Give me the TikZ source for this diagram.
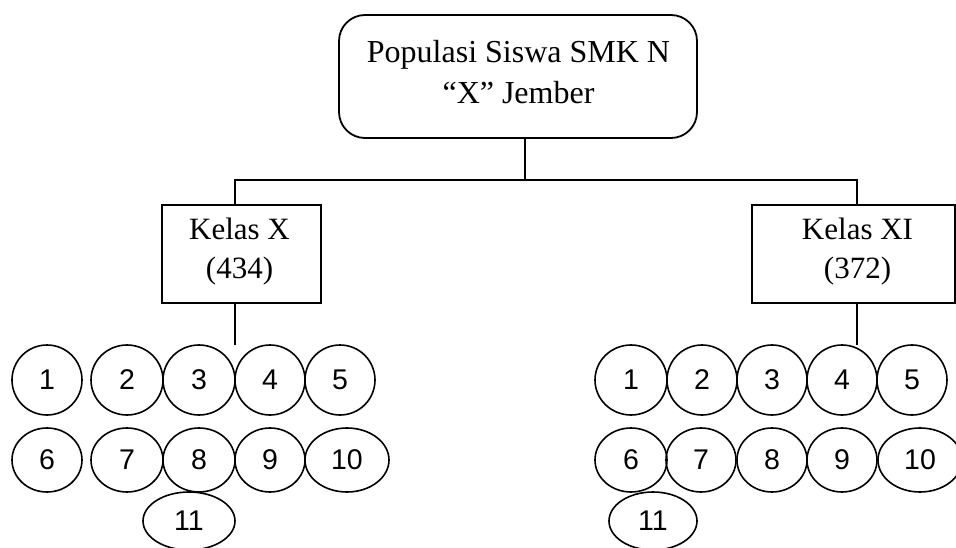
\documentclass[tikz,border=0pt]{standalone}
\usepackage{fontspec}
\setmainfont{Liberation Serif}
\newfontfamily\digitfont{Liberation Sans}
\usetikzlibrary{shapes.geometric}
\tikzset{
  link/.style={line width=1.8pt},
  frame/.style={draw, line width=1.8pt, inner sep=0pt},
  label31/.style={align=center, inner sep=0pt, font=\fontsize{31}{39}\selectfont},
  oval/.style={draw, ellipse, line width=1.6pt, inner sep=0pt,
    font=\digitfont\fontsize{28.5}{30}\selectfont},
}
\begin{document}
\begin{tikzpicture}[x=1pt,y=-1pt]
\useasboundingbox (0,0) rectangle (956,548);
% top box
\node[frame, rounded corners=26pt, minimum width=358pt, minimum height=123pt] (top) at (518,76.5) {};
\node[label31, font=\fontsize{32}{41}\selectfont] (toptext) at (518.5,72) {Populasi Siswa SMK N\\``X'' Jember};
\node[frame, minimum width=159pt, minimum height=98pt] (kx) at (241.5,254) {};
\node[label31] (kxtext) at (239.5,252) {Kelas X\\(434)};
\node[frame, minimum width=203pt, minimum height=98pt] (kxi) at (853.5,254) {};
\node[label31] (kxitext) at (857.5,252) {Kelas XI\\(372)};
\coordinate (jn) at (525,180);
\draw[link] ([xshift=7pt]top.south) -- (jn);
\draw[link] ([xshift=-6.5pt]kx.north) |- (jn) -| ([xshift=3.5pt]kxi.north);
% left group
\node[oval, minimum width=70pt, minimum height=70pt] (l1) at (47,380) {1};
\node[oval, minimum width=72pt, minimum height=70pt] (l2) at (127,380) {2};
\node[oval, minimum width=72pt, minimum height=70pt] (l3) at (199,380) {3};
\node[oval, minimum width=70pt, minimum height=70pt] (l4) at (270,380) {4};
\node[oval, minimum width=70pt, minimum height=70pt] (l5) at (340,380) {5};
\node[oval, minimum width=70pt, minimum height=64pt] (l6) at (47,460) {6};
\node[oval, minimum width=72pt, minimum height=64pt] (l7) at (127,460) {7};
\node[oval, minimum width=72pt, minimum height=64pt] (l8) at (199,460) {8};
\node[oval, minimum width=70pt, minimum height=64pt] (l9) at (270,460) {9};
\node[oval, minimum width=84pt, minimum height=64pt] (l10) at (347,460) {10};
\node[oval, minimum width=92pt, minimum height=58pt] (l11) at (189,521) {11};
\coordinate (lt) at (235,345);
\draw[link] ([xshift=-6.5pt]kx.south) -- (lt);
% right group
\node[oval, minimum width=72pt, minimum height=70pt] (r1) at (631,380) {1};
\node[oval, minimum width=70pt, minimum height=70pt] (r2) at (702,380) {2};
\node[oval, minimum width=70pt, minimum height=70pt] (r3) at (772,380) {3};
\node[oval, minimum width=70pt, minimum height=70pt] (r4) at (842,380) {4};
\node[oval, minimum width=70pt, minimum height=70pt] (r5) at (912,380) {5};
\node[oval, minimum width=72pt, minimum height=64pt] (r6) at (631,460) {6};
\node[oval, minimum width=70pt, minimum height=64pt] (r7) at (701,460) {7};
\node[oval, minimum width=70pt, minimum height=64pt] (r8) at (772,460) {8};
\node[oval, minimum width=70pt, minimum height=64pt] (r9) at (842,460) {9};
\node[oval, minimum width=84pt, minimum height=64pt] (r10) at (920,460) {10};
\node[oval, minimum width=88pt, minimum height=58pt] (r11) at (653,521) {11};
\coordinate (rt) at (857,345);
\draw[link] ([xshift=3.5pt]kxi.south) -- (rt);
\end{tikzpicture}
\end{document}
